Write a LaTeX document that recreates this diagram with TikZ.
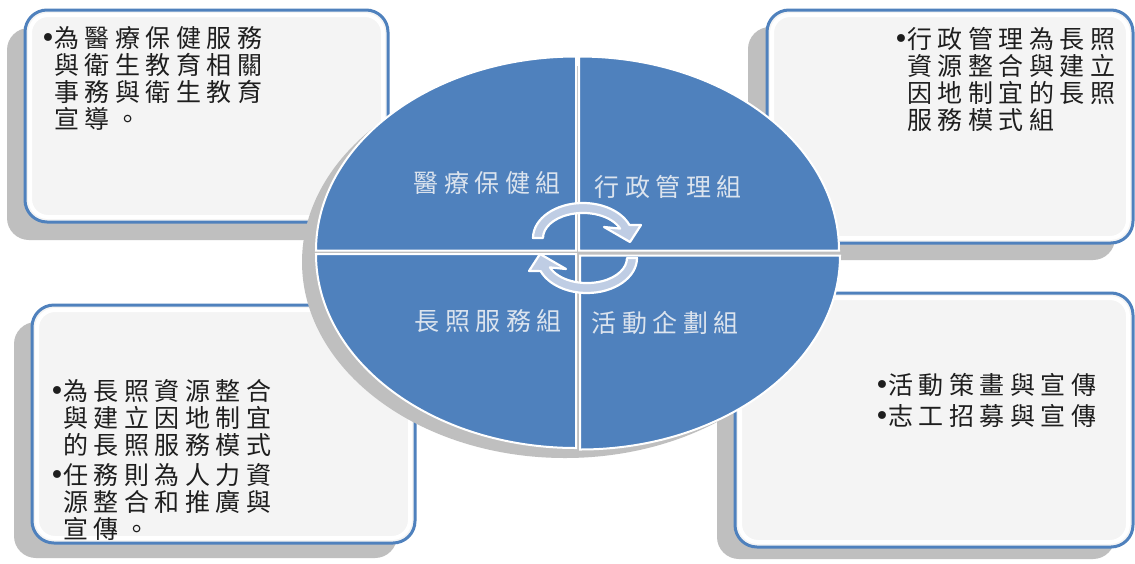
\documentclass[tikz,border=0pt]{standalone}
\usepackage{fontspec}
\newfontfamily\cjk[LetterSpace=22]{Noto Sans CJK TC}
\newfontfamily\bulfont{DejaVu Sans}
\definecolor{boxblue}{HTML}{4F81BD}
\definecolor{quadblue}{HTML}{4F81BD}
\definecolor{shadowgray}{HTML}{BFBFBF}
\definecolor{boxfill}{HTML}{F4F4F4}
\definecolor{arrowfill}{HTML}{BFCDE4}
\definecolor{labelwhite}{HTML}{DCE4EE}
\definecolor{textblack}{HTML}{1E1E1E}
\newcommand\mybul{\makebox[14pt][l]{\bulfont\fontsize{27pt}{27pt}\selectfont\raisebox{0pt}{•}}}
\newcommand\myind{\hspace*{14pt}}
\begin{document}
\begin{tikzpicture}[x=1pt,y=-1pt,
  shadowbox/.style={fill=shadowgray, rounded corners=22pt},
  infobox/.style={fill=boxfill, draw=boxblue, line width=3pt, rounded corners=22pt},
  innerrim/.style={draw=white, line width=4pt, rounded corners=18pt},
  quad/.style={fill=quadblue, draw=white, line width=2pt},
  cyclearrow/.style={fill=arrowfill, draw=white, line width=2.2pt, line join=round},
  boxtext/.style={anchor=north west, inner sep=0pt, align=left, text=textblack,
    font=\cjk\fontsize{25pt}{27pt}\selectfont},
  grouplabel/.style={inner sep=0pt, text=labelwhite, font=\cjk\fontsize{25pt}{27pt}\selectfont}]
\useasboundingbox (0,0) rectangle (1135,563);
\fill[white] (0,0) rectangle (1135,563);
% shadows of boxes
\path[shadowbox] (7,28) rectangle (370,240);
\path[shadowbox] (748,27) rectangle (1115,260);
\path[shadowbox] (14,322) rectangle (397,558);
\path[shadowbox] (717,308) rectangle (1115,559);
% boxes
\path[infobox] (25,10) rectangle (388,222);
\path[innerrim] (30,15) rectangle (383,217);
\path[infobox] (767,10) rectangle (1133,243);
\path[innerrim] (772,15) rectangle (1128,238);
\path[infobox] (32,305) rectangle (415,543);
\path[innerrim] (37,310) rectangle (410,538);
\path[infobox] (735,293) rectangle (1133,547);
\path[innerrim] (740,298) rectangle (1128,542);
% box texts
\node[boxtext] (tl) at (40,26) {\mybul 為醫療保健服務\\\myind 與衛生教育相關\\\myind 事務與衛生教育\\\myind 宣導。};
\node[boxtext] (tr) at (893,27) {\mybul 行政管理為長照\\\myind 資源整合與建立\\\myind 因地制宜的長照\\\myind 服務模式組};
\node[boxtext] (bl) at (49,379) {\mybul 為長照資源整合\\\myind 與建立因地制宜\\\myind 的長照服務模式\\[3pt]\mybul 任務則為人力資\\\myind 源整合和推廣與\\\myind 宣傳。};
\node[boxtext] (br) at (874,373) {\mybul 活動策畫與宣傳\\[4pt]\mybul 志工招募與宣傳};
% ellipse shadow
\fill[shadowgray] (565,262) ellipse[x radius=263pt, y radius=196pt];
% quadrants
\path[quad] (576,250.5) -- (316,250.5) arc[start angle=180, end angle=90, x radius=260pt, y radius=194pt] -- cycle;
\path[quad] (579,250.5) -- (579,56.5) arc[start angle=90, end angle=0, x radius=260pt, y radius=194pt] -- cycle;
\path[quad] (576,254) -- (316,254) arc[start angle=180, end angle=270, x radius=260pt, y radius=194pt] -- cycle;
\path[quad] (580,255.5) -- (840,255.5) arc[start angle=0, end angle=-90, x radius=260pt, y radius=194pt] -- cycle;
% labels
\node[grouplabel] (q1) at (487,183) {醫療保健組};
\node[grouplabel] (q2) at (668,187) {行政管理組};
\node[grouplabel] (q3) at (488,321) {長照服務組};
\node[grouplabel] (q4) at (665,323) {活動企劃組};
% cycle arrows
\path[cyclearrow] (533,238) arc[start angle=180, end angle=22, x radius=50pt, y radius=35pt]
  -- (641,225) -- (630,242) -- (604,227) -- (620.1,228.6)
  arc[start angle=22, end angle=180, x radius=40pt, y radius=25pt] -- cycle;
\begin{scope}[rotate around={180:(585,248)}]
\path[cyclearrow] (533,238) arc[start angle=180, end angle=22, x radius=50pt, y radius=35pt]
  -- (641,225) -- (630,242) -- (604,227) -- (620.1,228.6)
  arc[start angle=22, end angle=180, x radius=40pt, y radius=25pt] -- cycle;
\end{scope}
\end{tikzpicture}
\end{document}
